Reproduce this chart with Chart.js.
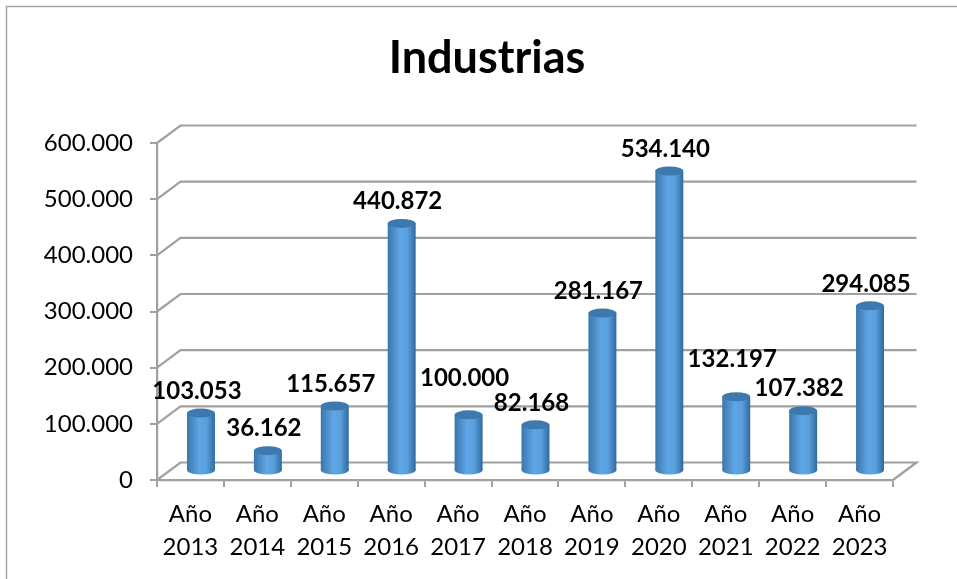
<!DOCTYPE html>
<html><head><meta charset="utf-8">
<style>html,body{margin:0;padding:0;background:#fff;overflow:hidden}canvas{display:block}</style>
<script src="https://cdn.jsdelivr.net/npm/chart.js@4/dist/chart.umd.min.js"></script>
</head><body><canvas id="c" width="957" height="579"></canvas>
<script>
const chartTitle = "Industrias";
const categories = [["Año","2013"],["Año","2014"],["Año","2015"],["Año","2016"],["Año","2017"],["Año","2018"],["Año","2019"],["Año","2020"],["Año","2021"],["Año","2022"],["Año","2023"]];
const values = [103053,36162,115657,440872,100000,82168,281167,534140,132197,107382,294085];
const axisMax = 600000;
const axisStep = 100000;

const DX = 23.5, DY = -17.5;        // depth of the 3D box
const BX = 10.5, BY = -9, RY = 4.5; // bars stand mid-depth; ellipse radius
const GRID = '#a0a0a0';
const fmt = v => String(Math.round(v)).replace(/\B(?=(\d{3})+(?!\d))/g, '.');
const labelShift = i => (i === 4 || i === 8) ? -37 : -22;

function barGradient(ctx, cx, w) {
  const g = ctx.createLinearGradient(cx - w/2, 0, cx + w/2, 0);
  g.addColorStop(0, '#3b76ac');
  g.addColorStop(0.45, '#5fa6e6');
  g.addColorStop(0.7, '#5a9fdd');
  g.addColorStop(1, '#2f6a9f');
  return g;
}

const box3d = {
  id: 'box3d',
  afterLayout(chart) {
    if (chart.titleBlock) chart.titleBlock.left = 81;
  },
  beforeDraw(chart) {
    const c = chart.ctx;
    c.save();
    c.strokeStyle = '#a6a6a6'; c.lineWidth = 1.5;
    c.beginPath(); c.moveTo(957, 6.5); c.lineTo(6.5, 6.5); c.lineTo(6.5, 579); c.stroke();
    c.restore();
  },
  beforeDatasetsDraw(chart) {
    const c = chart.ctx, { y } = chart.scales, a = chart.chartArea;
    c.save();
    c.strokeStyle = GRID; c.lineWidth = 2.2;
    y.ticks.forEach(t => {
      const p = y.getPixelForValue(t.value);
      c.beginPath(); c.moveTo(a.left, p); c.lineTo(a.left + DX, p + DY); c.lineTo(a.right + DX, p + DY);
      if (t.value === 0) c.lineTo(a.right, p);
      c.stroke();
    });
    c.restore();
    c.save();
    c.translate(BX, BY);
    chart.getDatasetMeta(0).data.forEach(b => {
      c.fillStyle = barGradient(c, b.x, b.width);
      c.beginPath(); c.ellipse(b.x, b.base, b.width/2, RY, 0, 0, Math.PI*2); c.fill();
    });
  },
  afterDatasetsDraw(chart) {
    const c = chart.ctx;
    const meta = chart.getDatasetMeta(0);
    meta.data.forEach(b => {
      c.fillStyle = '#3d78ae';
      c.beginPath(); c.ellipse(b.x, b.y, b.width/2, RY, 0, 0, Math.PI*2); c.fill();
    });
    c.restore();
    c.save();
    c.font = 'bold 24px Lato'; c.fillStyle = '#000'; c.textAlign = 'center'; c.textBaseline = 'middle';
    meta.data.forEach((b, i) => {
      c.fillText(fmt(values[i]), b.x + BX - 4, b.y + BY + labelShift(i));
    });
    c.restore();
  }
};

new Chart(document.getElementById('c'), {
  type: 'bar',
  data: { labels: categories, datasets: [{
    data: values,
    barPercentage: 0.418, categoryPercentage: 1,
    borderWidth: 0,
    backgroundColor: ctx => {
      const s = ctx.chart.scales.x;
      const cx = s ? s.getPixelForValue(ctx.dataIndex) : NaN;
      if (!Number.isFinite(cx)) return '#5a9fdd';
      return barGradient(ctx.chart.ctx, cx, 28);
    }
  }]},
  options: {
    responsive: false, animation: false,
    layout: { padding: { left: 0, right: 64, top: 31, bottom: 0 } },
    plugins: {
      legend: { display: false }, tooltip: { enabled: false },
      title: { display: true, text: chartTitle, color: '#000',
        font: { family: 'Lato', size: 45, weight: 'bold', lineHeight: 1.2 },
        padding: { top: 0, bottom: 58 } }
    },
    scales: {
      x: {
        afterFit: s => { s.height = 99; },
        border: { color: GRID, width: 2.2 },
        grid: { drawOnChartArea: false, drawTicks: true, tickLength: 7, color: GRID, lineWidth: 2 },
        ticks: { color: '#000', font: { family: 'Lato', size: 24, lineHeight: 1.36 }, maxRotation: 0, autoSkip: false, padding: 11 }
      },
      y: {
        min: 0, max: axisMax,
        afterFit: s => { s.width = 157; },
        border: { color: GRID, width: 2.2 },
        grid: { drawOnChartArea: false, drawTicks: true, tickLength: 7, color: GRID, lineWidth: 2 },
        ticks: { stepSize: axisStep, color: '#000', font: { family: 'Lato', size: 24 }, padding: 17, callback: v => fmt(v) }
      }
    }
  },
  plugins: [box3d]
});
</script></body></html>
